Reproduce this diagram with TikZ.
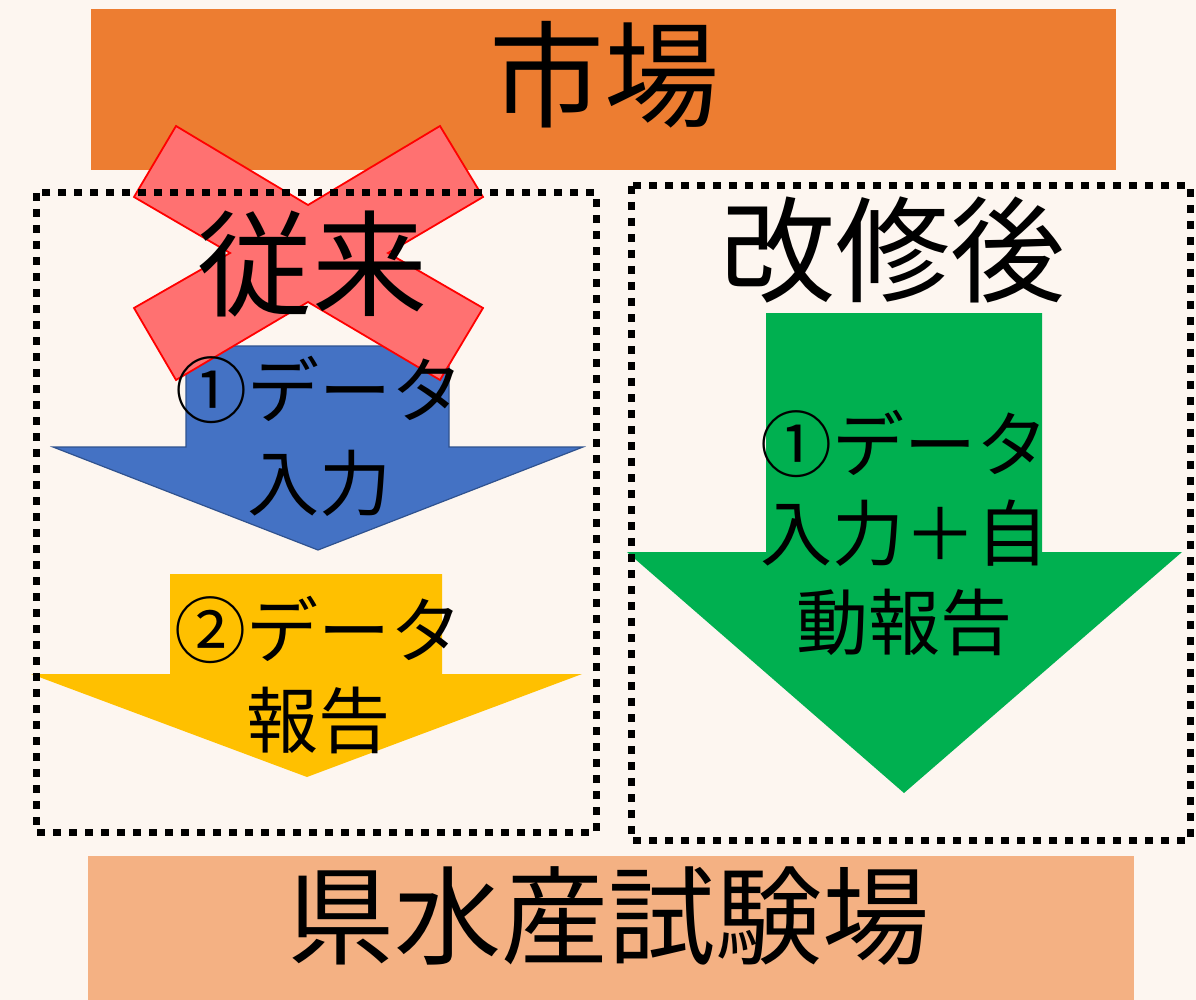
\documentclass[tikz,border=0pt]{standalone}
\usepackage{fontspec}
\newfontfamily\jp{Noto Sans CJK JP}
\definecolor{bg}{RGB}{253,246,240}
\definecolor{orangebar}{RGB}{237,125,49}
\definecolor{peachbar}{RGB}{244,177,131}
\definecolor{bluearrow}{RGB}{68,114,196}
\definecolor{blueline}{RGB}{47,82,143}
\definecolor{yellowarrow}{RGB}{255,192,0}
\definecolor{greenarrow}{RGB}{0,176,80}
\definecolor{crossfill}{RGB}{255,113,113}
\definecolor{crossline}{RGB}{255,0,0}
\begin{document}
\begin{tikzpicture}[x=1pt,y=-1pt,
  bigtext/.style={inner sep=0pt, text=black, font=\jp\fontsize{115pt}{115pt}\selectfont},
  lowtext/.style={inner sep=0pt, text=black, font=\jp\fontsize{107pt}{107pt}\selectfont},
  arrowtext/.style={inner sep=0pt, text=black, align=center},
  dotbox/.style={draw=black, line width=7pt, dash pattern=on 8pt off 8pt, line cap=butt}
]
\fill[bg] (0,0) rectangle (1196,1000);
\useasboundingbox (0,0) rectangle (1196,1000);

% bars
\fill[orangebar] (91,9) rectangle (1116,170);
\fill[peachbar] (88,856) rectangle (1134,1000);

% arrows
\filldraw[fill=bluearrow, draw=blueline, line width=1.2pt]
  (186,346) -- (449,346) -- (449,447) -- (583,447) -- (318,550)
  -- (53,447) -- (186,447) -- cycle;
\fill[yellowarrow]
  (170,574) -- (442,574) -- (442,674) -- (582,674) -- (307,777)
  -- (31,674) -- (170,674) -- cycle;
\fill[greenarrow]
  (766,313) -- (1042,313) -- (1042,552) -- (1182,552) -- (904,793)
  -- (627,552) -- (766,552) -- cycle;

% red cross
\filldraw[fill=crossfill, draw=crossline, line width=1.8pt]
  (176,126) -- (308,205) -- (440,126) -- (483,197) -- (388,253)
  -- (483,308) -- (440,380) -- (308,302) -- (176,380) -- (134,308)
  -- (230,253) -- (134,197) -- cycle;

% dotted boxes
\draw[dotbox] (36,193) rectangle (596,832);
\draw[dotbox] (631,186) rectangle (1190,840);

% texts
\node[bigtext] (market) at (604,75) {市場};
\node[bigtext] (old) at (312,264) {従来};
\node[bigtext] (new) at (893,250) {改修後};
\node[lowtext] (lab) at (608,916) {県水産試験場};

\node[arrowtext, font=\jp\fontsize{72pt}{93pt}\selectfont] (inputold) at (319,436) {①データ\\入力};
\node[arrowtext, font=\jp\fontsize{72pt}{90pt}\selectfont] (report) at (318,675) {②データ\\報告};
\node[arrowtext, font=\jp\fontsize{72pt}{89pt}\selectfont] (inputnew) at (904,533) {①データ\\入力＋自\\動報告};
\end{tikzpicture}
\end{document}
